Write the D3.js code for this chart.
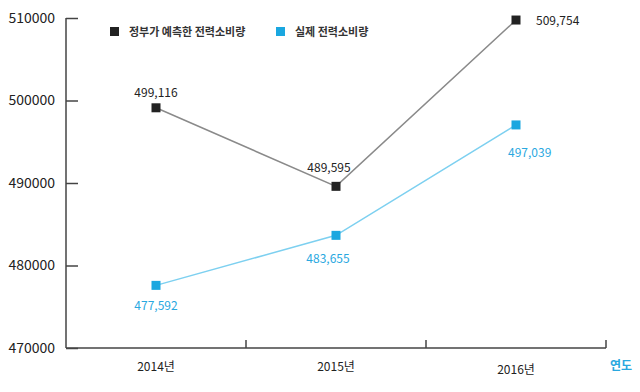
<!DOCTYPE html>
<html><head><meta charset="utf-8">
<script src="https://cdn.jsdelivr.net/npm/d3@7"></script>
<style>body{margin:0;background:#fff}svg{display:block}text{font-family:"Noto Sans CJK KR","Noto Sans",sans-serif}</style>
</head><body><svg id="c" width="640" height="392"></svg>
<script>
const categories = ["2014년", "2015년", "2016년"];
const predicted = [499116, 489595, 509754];
const actual = [477592, 483655, 497039];
const yTicks = [470000, 480000, 490000, 500000, 510000];
const seriesNames = ["정부가 예측한 전력소비량", "실제 전력소비량"];

const svg = d3.select("#c");
const x = d3.scaleBand().domain(categories).range([66, 606]);
const y = d3.scaleLinear().domain([470000, 510000]).range([348, 18]);
const cx = d => x(d) + x.bandwidth() / 2;

// y axis
const ya = svg.append("g").attr("transform", "translate(66,0)")
  .call(d3.axisRight(y).tickValues(yTicks).tickSize(12).tickFormat(d3.format("d")));
ya.select(".domain").attr("stroke", "#444").attr("stroke-width", 1.5).attr("d", "M0,18V348");
ya.selectAll(".tick line").attr("stroke", "#444").attr("stroke-width", 1.5);
ya.selectAll(".tick text").attr("x", -11).attr("text-anchor", "end").attr("font-size", 14)
  .attr("fill", "#222").attr("font-family", "Open Sans, sans-serif");

// x axis
const xa = svg.append("g").attr("transform", "translate(0,348)")
  .call(d3.axisBottom(x).tickSize(0));
xa.select(".domain").attr("stroke", "#444").attr("stroke-width", 1.5).attr("d", "M66,0H606");
xa.selectAll(".tick text").attr("y", 12).attr("font-size", 12).attr("fill", "#222")
  .attr("font-family", "Noto Sans CJK KR, sans-serif")
  .attr("dy", (d, i) => i === 2 ? "1.2em" : "0.9em");
// separators between bands
svg.append("g").selectAll("line").data(categories.slice(1).concat(["end"])).join("line")
  .attr("x1", (d, i) => i < 2 ? x(categories[i + 1]) : x(categories[2]) + x.bandwidth())
  .attr("x2", (d, i) => i < 2 ? x(categories[i + 1]) : x(categories[2]) + x.bandwidth())
  .attr("y1", 348).attr("y2", 340).attr("stroke", "#444").attr("stroke-width", 1.5);
svg.append("text").attr("x", 610).attr("y", 370).attr("fill", "#29a8df").attr("font-size", 12)
  .attr("font-weight", "bold").text("연도");

const line = d3.line().x((d, i) => cx(categories[i])).y(d => y(d));
svg.append("path").attr("d", line(predicted)).attr("fill", "none").attr("stroke", "#8a8a8a").attr("stroke-width", 1.5);
svg.append("path").attr("d", line(actual)).attr("fill", "none").attr("stroke", "#7dd0f0").attr("stroke-width", 1.5);

const ms = 9;
svg.append("g").selectAll("rect").data(predicted).join("rect")
  .attr("x", (d, i) => cx(categories[i]) - ms / 2).attr("y", d => y(d) - ms / 2)
  .attr("width", ms).attr("height", ms).attr("fill", "#222");
svg.append("g").selectAll("rect").data(actual).join("rect")
  .attr("x", (d, i) => cx(categories[i]) - ms / 2).attr("y", d => y(d) - ms / 2)
  .attr("width", ms).attr("height", ms).attr("fill", "#1aa7e0");

const fmt = d3.format(",");
const pOff = [[0, -11, "middle"], [-7, -14, "middle"], [20, 5, "start"]];
const aOff = [[0, 25, "middle"], [-8, 28, "middle"], [-8, 32, "start"]];
svg.append("g").selectAll("text").data(predicted).join("text")
  .attr("x", (d, i) => cx(categories[i]) + pOff[i][0]).attr("y", (d, i) => y(d) + pOff[i][1])
  .attr("text-anchor", (d, i) => pOff[i][2]).attr("font-size", 12).attr("fill", "#222")
  .attr("font-family", "Open Sans, sans-serif").text(d => fmt(d));
svg.append("g").selectAll("text").data(actual).join("text")
  .attr("x", (d, i) => cx(categories[i]) + aOff[i][0]).attr("y", (d, i) => y(d) + aOff[i][1])
  .attr("text-anchor", (d, i) => aOff[i][2]).attr("font-size", 12).attr("fill", "#29a8df")
  .attr("font-family", "Open Sans, sans-serif").text(d => fmt(d));

// legend
const legX = [110, 276];
const lg = svg.append("g");
seriesNames.forEach((n, i) => {
  lg.append("rect").attr("x", legX[i]).attr("y", 27).attr("width", 9).attr("height", 9)
    .attr("fill", i === 0 ? "#222" : "#1aa7e0");
  lg.append("text").attr("x", legX[i] + 19).attr("y", 36).attr("font-size", 11)
    .attr("font-weight", "bold").attr("fill", "#333").text(n);
});
</script></body></html>
